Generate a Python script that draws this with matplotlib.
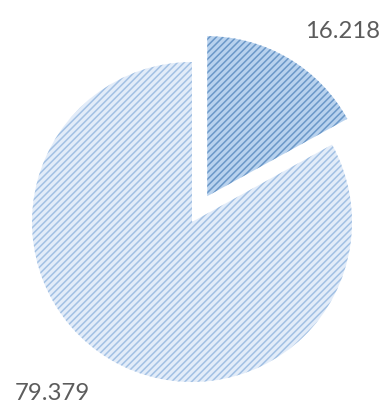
import matplotlib
matplotlib.use("Agg")
import matplotlib.pyplot as plt

# Slice values and their labels
values = [16.218, 79.379]
labels = ["16.218", "79.379"]

fill_colors = ["#b8d2ee", "#e2ecf9"]
hatch_colors = ["#6b98c8", "#a3c1e4"]
explode = [0.1875, 0.0]

plt.rcParams["hatch.linewidth"] = 1.4

fig = plt.figure(figsize=(385 / 80, 407 / 80), dpi=80)
ax = fig.add_axes([0, 0, 1, 1])

wedges, _ = ax.pie(
    values,
    explode=explode,
    startangle=90,
    counterclock=False,
    colors=fill_colors,
    wedgeprops=dict(linewidth=0),
)
for w, hc in zip(wedges, hatch_colors):
    w.set_hatch("////")
    w.set_edgecolor(hc)
    w.set_linewidth(0)

ax.set_xlim(-1.2, 1.20625)
ax.set_ylim(-1.15625, 1.3875)
ax.set_aspect("auto")
ax.axis("off")

# Value labels: one at the top right, one at the bottom left
ax.text(0.988, 0.923, labels[0], transform=ax.transAxes, ha="right",
        va="center", fontsize=21.5, color="#5c5c5c", family="Lato")
ax.text(0.038, 0.032, labels[1], transform=ax.transAxes, ha="left",
        va="center", fontsize=21.5, color="#5c5c5c", family="Lato")

fig.savefig("out.png", dpi=80)
